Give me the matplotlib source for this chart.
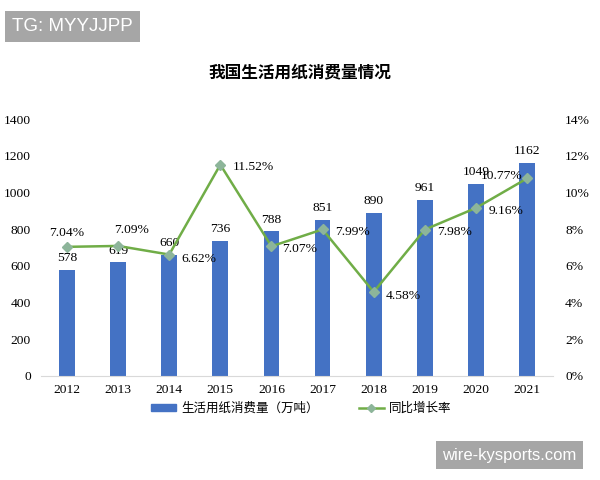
import numpy as np
import matplotlib.pyplot as plt
from matplotlib.lines import Line2D
from matplotlib.patches import Patch

years = ['2012', '2013', '2014', '2015', '2016', '2017', '2018', '2019', '2020', '2021']
consumption = [578, 619, 660, 736, 788, 851, 890, 961, 1049, 1162]
growth = [7.04, 7.09, 6.62, 11.52, 7.07, 7.99, 4.58, 7.98, 9.16, 10.77]
growth_labels = ['7.04%', '7.09%', '6.62%', '11.52%', '7.07%', '7.99%', '4.58%', '7.98%', '9.16%', '10.77%']

serif = ['Liberation Serif', 'DejaVu Serif']
cjk = ['Noto Sans CJK SC', 'DejaVu Sans']
plt.rcParams['font.family'] = serif

bar_color = '#4472C4'
line_color = '#70AD47'
marker_color = '#8DB59A'
fs = 9.7

fig = plt.figure(figsize=(6, 4.8), dpi=100)
ax = fig.add_axes([0.069, 0.2167, 0.852, 0.535])
ax2 = ax.twinx()

x = np.arange(len(years))
ax.bar(x, consumption, width=0.31, color=bar_color, zorder=2)
ax.set_xlim(-0.5, len(years) - 0.5)
ax.set_ylim(0, 1400)
ax.set_yticks(range(0, 1401, 200))
ax.set_xticks(x)
ax.set_xticklabels(years)

for xi, v in zip(x, consumption):
    ax.annotate(str(v), (xi, v), xytext=(0, 4), textcoords='offset points',
                ha='center', va='bottom', fontsize=fs)

ax2.plot(x, growth, color=line_color, lw=1.8, marker='D', ms=5,
         mfc=marker_color, mec=marker_color, zorder=3)
ax2.set_ylim(0, 14)
ax2.set_yticks(range(0, 15, 2))
ax2.set_yticklabels([f'{t}%' for t in range(0, 15, 2)])

# label offsets (points) for the growth rates
offsets = [(0, 6, 'center'), (10, 7, 'center'), (9, -3, 'left'), (9, -2, 'left'),
           (8, -2, 'left'), (9, -2, 'left'), (9, -3, 'left'), (9, -2, 'left'),
           (9, -2, 'left'), (-3, 2, 'right')]
for xi, v, lab, (dx, dy, ha) in zip(x, growth, growth_labels, offsets):
    ax2.annotate(lab, (xi, v), xytext=(dx, dy), textcoords='offset points',
                 ha=ha, va='center' if ha != 'center' else 'bottom', fontsize=fs)

for a in (ax, ax2):
    for s in a.spines.values():
        s.set_visible(False)
    a.tick_params(length=0, labelsize=fs)
ax.spines['bottom'].set_visible(True)
ax.spines['bottom'].set_color('#D9D9D9')
ax.tick_params(axis='y', pad=7.5)
ax.tick_params(axis='x', pad=6)
ax2.tick_params(axis='y', pad=9)

fig.text(0.5, 0.85, '我国生活用纸消费量情况', ha='center', va='center',
         fontsize=12, family=cjk, weight='bold')

handles = [Patch(color=bar_color),
           Line2D([0], [0], color=line_color, lw=1.8, marker='D', ms=4,
                  mfc=marker_color, mec=marker_color)]
fig.legend(handles, ['生活用纸消费量（万吨）', '同比增长率'], loc='center',
           bbox_to_anchor=(0.502, 0.149), ncol=2, frameon=False,
           prop={'family': cjk, 'size': 9}, columnspacing=3.2,
           handlelength=2.0, handleheight=0.55, handletextpad=0.45)

# watermark boxes
fig.text(0.121, 0.945, 'TG: MYYJJPP', ha='center', va='center',
         color='white', fontsize=13.5, family='Liberation Sans',
         bbox=dict(boxstyle='square,pad=0.38', fc='#A6A6A6', ec='none'))
fig.text(0.849, 0.052, 'wire-kysports.com', ha='center', va='center',
         color='white', fontsize=12, family='Liberation Sans',
         bbox=dict(boxstyle='square,pad=0.4', fc='#A6A6A6', ec='none'))

fig.savefig('out.png', dpi=100)
